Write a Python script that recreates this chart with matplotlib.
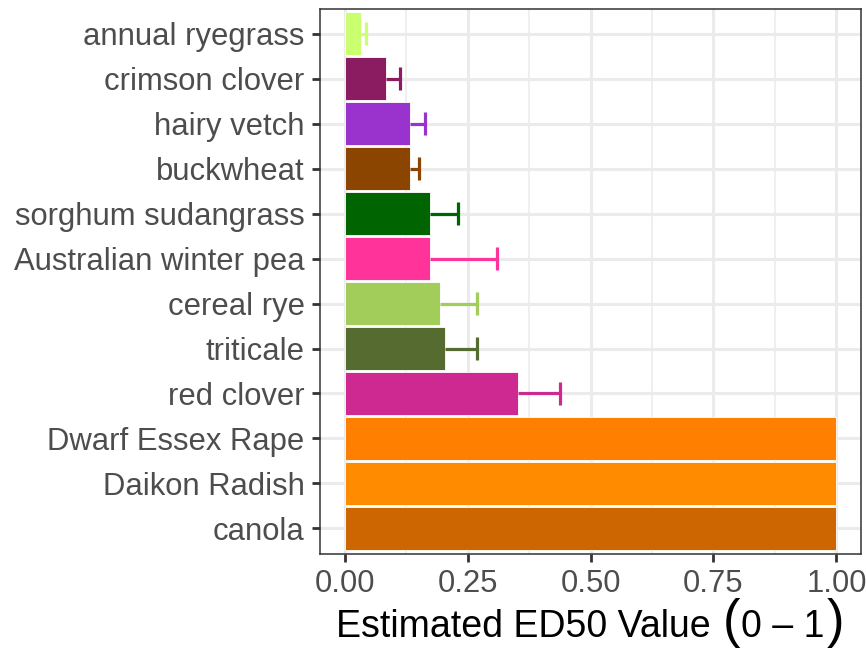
import matplotlib
matplotlib.use("Agg")
import matplotlib.pyplot as plt
from matplotlib.offsetbox import TextArea, HPacker, AnchoredOffsetbox
import numpy as np

plt.rcParams['font.family'] = ['Liberation Sans', 'DejaVu Sans']

# 아래에서 위 순서 (canola가 맨 아래)
species = ["canola", "Daikon Radish", "Dwarf Essex Rape", "red clover", "triticale",
           "cereal rye", "Australian winter pea", "sorghum sudangrass", "buckwheat",
           "hairy vetch", "crimson clover", "annual ryegrass"]
ed50 = [1.00, 1.00, 1.00, 0.353, 0.204, 0.194, 0.174, 0.174, 0.134, 0.134, 0.084, 0.034]
upper = [1.00, 1.00, 1.00, 0.439, 0.270, 0.270, 0.310, 0.230, 0.151, 0.163, 0.113, 0.043]
colors = ["#CD6600", "#FF8C00", "#FF7F00", "#CD2990", "#556B2F", "#A2CD5A",
          "#FF3399", "#006400", "#8B4500", "#9A32CD", "#8B1C62", "#CAFF70"]

fig = plt.figure(figsize=(8.66, 6.56), dpi=100)
ax = fig.add_axes([320/866, (656-554)/656, 541/866, 545/656])

y = np.arange(1, len(species) + 1)
ed50 = np.array(ed50)
upper = np.array(upper)

ax.barh(y, ed50, height=0.95, color=colors, edgecolor="white", linewidth=0.6, zorder=3)

# 오차막대 (위쪽만)
has_err = upper > ed50
err_col = np.array(colors)[has_err]
ax.hlines(y[has_err], ed50[has_err], upper[has_err], colors=err_col, linewidth=2.3, zorder=4)
ax.vlines(upper[has_err], y[has_err] - 0.25, y[has_err] + 0.25, colors=err_col, linewidth=2.3, zorder=4)

ax.set_xlim(-0.05, 1.05)
ax.set_ylim(0.43, 12.55)
ax.set_yticks(y)
ax.set_yticklabels(species)
ax.set_xticks([0, 0.25, 0.5, 0.75, 1.0])
ax.set_xticklabels(["0.00", "0.25", "0.50", "0.75", "1.00"])
ax.set_xticks([0.125, 0.375, 0.625, 0.875], minor=True)

# theme_bw 스타일 격자
ax.grid(which="major", color="#EBEBEB", linewidth=2.2, zorder=0)
ax.grid(which="minor", axis="x", color="#EBEBEB", linewidth=1.1, zorder=0)
ax.set_axisbelow(True)
for s in ax.spines.values():
    s.set_color("#333333")
    s.set_linewidth(1.1)

ax.tick_params(axis="both", which="major", length=6, width=2, color="#333333",
               labelsize=22.3, labelcolor="#4D4D4D", pad=5)
ax.tick_params(axis="x", which="minor", length=0)

# x축 제목: 괄호를 크게
parts = [TextArea("Estimated ED50 Value ", textprops=dict(size=27, color="black")),
         TextArea("(", textprops=dict(size=38, color="black")),
         TextArea("0 \u2013 1", textprops=dict(size=27, color="black")),
         TextArea(")", textprops=dict(size=38, color="black"))]
title = HPacker(children=parts, align="baseline", pad=0, sep=1)
box = AnchoredOffsetbox(loc="lower center", child=title, frameon=False, pad=0, borderpad=0,
                        bbox_to_anchor=(590/866, 8/656), bbox_transform=fig.transFigure)
fig.add_artist(box)

fig.savefig("out.png", dpi=100)
